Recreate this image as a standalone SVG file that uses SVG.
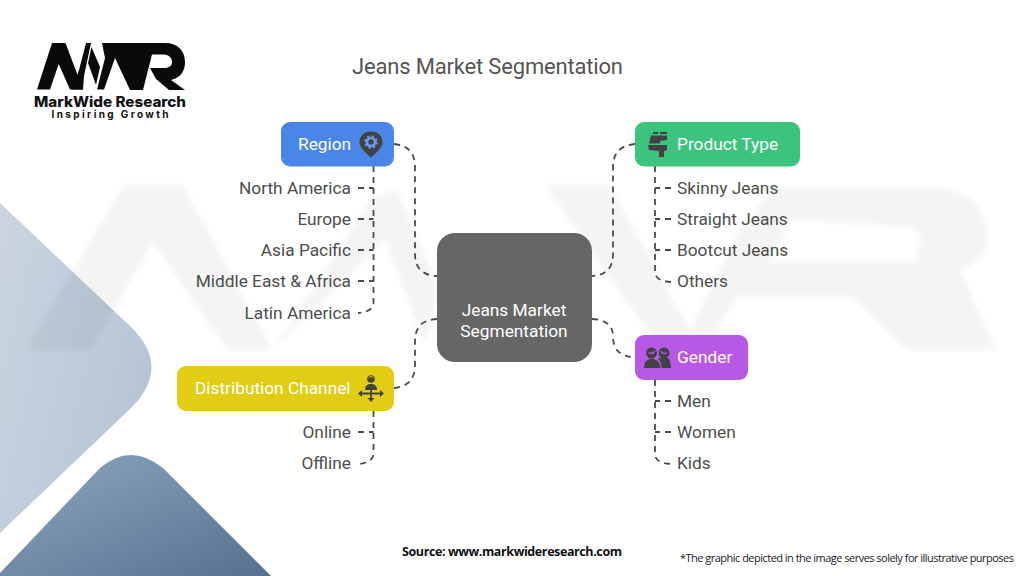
<svg xmlns="http://www.w3.org/2000/svg" width="1024" height="576" viewBox="0 0 1024 576">
<style>
.l{font:17.3px Roboto,"Liberation Sans",sans-serif;fill:#4d4d4d}
.e{text-anchor:end}
.n{font:17.3px Roboto,"Liberation Sans",sans-serif;fill:#fff}
.c{fill:none;stroke:#4a4a4a;stroke-width:1.8;stroke-dasharray:6 5}
.i{fill:#424242}
</style>
<defs>
<linearGradient id="g1" x1="0" y1="0" x2="1" y2="0.5"><stop offset="0" stop-color="#cbd5e1"/><stop offset="1" stop-color="#b6c5d5"/></linearGradient>
<linearGradient id="g2" x1="0" y1="0" x2="1" y2="1"><stop offset="0" stop-color="#8fa6c1"/><stop offset="1" stop-color="#55718f"/></linearGradient>
<filter id="soft" x="-5%" y="-10%" width="110%" height="120%"><feGaussianBlur stdDeviation="2.500"/></filter>
</defs>
<rect width="1024" height="576" fill="#fff"/>
<path d="M0,203 L131,327 Q172,367 131,408 L0,533Z" fill="url(#g1)"/>
<path d="M0,573 L100,468 Q130,442 163,468 L271,576 H0Z" fill="url(#g2)"/>
<path id="watermark" filter="url(#soft)" fill="#000" opacity="0.04" d="M26,350 L123,185 H183 L273,350 L372,197 L397,190 L440,290 L425,345 L385,240 L273,350 H227 L153,243 L90,350Z M545,185 H610 L690,330 L737,235 L773,187 H927 C970,187 987,210 987,237 C987,255 975,265 960,270 L997,350 H907 L853,297 H737 L705,350 H660Z M793,220 L770,262 H913 C918,255 920,248 920,240 C920,232 913,227 903,227Z"/>
<g id="header">
<g id="logo" fill="#0a0a0a">
<path d="M37,89.500 L52,43 H65.500 L83,89.500 H70 L58.700,64 L50,89.500Z"/>
<path d="M72,89.500 L79,70 L86,43 H91 L84,76 L83,89.500Z"/>
<path d="M91.500,47 L100,67 L96,85 L88,63Z"/>
<path d="M102,43 H165 C178,43 185,51 185,62 C185,72 180,78 171,80 L185,90 H169 L156,79 L150,68 H163 C169,68 172,66 172,62 C172,57 168,54.500 163,54.500 H152 L143,90 H130 L115,58 L104,89.500 H97 L105,58Z"/>
</g>
<text x="110" y="107" text-anchor="middle" textLength="152" lengthAdjust="spacingAndGlyphs" style="font:800 14px Inter,'Liberation Sans',sans-serif" fill="#111">MarkWide Research</text>
<text x="110" y="118" text-anchor="middle" textLength="117" style="font:700 10px Inter,'Liberation Sans',sans-serif" fill="#111">Inspiring Growth</text>
<text x="352" y="74" textLength="271" style="font:22px Roboto,'Liberation Sans',sans-serif" fill="#555">Jeans Market Segmentation</text>
</g>
<g id="connectors">
<path class="c" d="M394,144 Q415,146 415,167 V254 Q415,275 437,276"/>
<path class="c" d="M394,388 Q415,386 415,365 V341 Q415,320 437,319"/>
<path class="c" d="M635,144 Q613,146 613,167 V254 Q613,275 592,276"/>
<path class="c" d="M592,319 Q613,320 613,336 Q613,357 635,357"/>
<path class="c" d="M373.500,166 V302 Q373.500,312 358,313"/>
<path class="c" d="M358,188 H373.500 M358,219 H373.500 M358,250 H373.500 M358,281 H373.500"/>
<path class="c" d="M373.500,411 V453 Q373.500,463 358,464"/>
<path class="c" d="M358,432 H373.500"/>
<path class="c" d="M655,166 V272 Q655,281 671,282"/>
<path class="c" d="M671,188 H655 M671,219 H655 M671,250 H655"/>
<path class="c" d="M655,380 V454 Q655,463 671,464"/>
<path class="c" d="M671,401 H655 M671,432 H655"/>
</g>
<g id="center"><rect x="437" y="233" width="155" height="129" rx="18" fill="#666"/>
<text class="n" x="514" y="316" text-anchor="middle">Jeans Market</text><text class="n" x="514" y="337" text-anchor="middle">Segmentation</text></g>
<g id="region"><rect x="281" y="122" width="113" height="44.500" rx="9" fill="#4a86e8"/>
<text class="n" x="298" y="150">Region</text>
<path class="i" d="M371,131.500 C378,131.500 382.500,136 382.500,142 C382.500,148 376,153 371,157.500 C366,153 359.500,148 359.500,142 C359.500,136 364,131.500 371,131.500Z"/>
<circle cx="371" cy="142" r="4" fill="none" stroke="#6c9eea" stroke-width="2.600"/><circle cx="371" cy="142" r="6" fill="none" stroke="#6c9eea" stroke-width="1.500" stroke-dasharray="2.500 2.200"/>
</g>
<g id="region-items">
<text class="l e" x="351" y="194">North America</text><text class="l e" x="351" y="225">Europe</text><text class="l e" x="351" y="256">Asia Pacific</text><text class="l e" x="351" y="287">Middle East &amp; Africa</text><text class="l e" x="351" y="319">Latin America</text></g>
<g id="distribution"><rect x="177" y="366" width="217" height="45" rx="9" fill="#e2cc14"/>
<text class="n" x="195" y="394">Distribution Channel</text>
<circle cx="371" cy="379" r="3.800" class="i"/><path d="M368.500,378 A3,3 0 0 1 373.500,378" fill="none" stroke="#e2cc14" stroke-width="1"/>
<path class="i" d="M365,390 C365,385 368,384 371,384 C374,384 377,385 377,390Z"/>
<path d="M360,393.500 H382 M371,390 V399" fill="none" stroke="#424242" stroke-width="1.800"/>
<path class="i" d="M358,393.500 L362,390 V397Z M384,393.500 L380,390 V397Z M371,402 L367.500,398 H374.500Z"/>
</g>
<g id="distribution-items"><text class="l e" x="351" y="438">Online</text><text class="l e" x="351" y="469">Offline</text></g>
<g id="product"><rect x="635" y="122" width="165" height="44.500" rx="9" fill="#3cc47f"/>
<text class="n" x="677" y="150">Product Type</text>
<path class="i" d="M653,132 H658 V134 H653Z M660,132 H667 V134 H660Z M651,135.500 H667 V140 L660,141 V143.500 H649Z M648,145 H667 V150 L664,151 V157 H659 V151 L649,150Z"/>
</g>
<g id="product-items"><text class="l" x="677" y="194">Skinny Jeans</text><text class="l" x="677" y="225">Straight Jeans</text><text class="l" x="677" y="256">Bootcut Jeans</text><text class="l" x="677" y="287">Others</text></g>
<g id="gender"><rect x="635" y="335" width="113" height="45" rx="9" fill="#b759e4"/>
<text class="n" x="677" y="363">Gender</text>
<circle cx="651.500" cy="353" r="5.500" class="i"/><circle cx="664" cy="353" r="5.500" class="i"/>
<path class="i" d="M644,368 C644,361 648,359 651.500,359 C656,359 660,361 660.500,368Z M661.500,368 C661.500,363 660,360 658,359 C661,357 667,357 669,359 C670,361 671,364 671,368Z"/>
<path d="M648.500,352.500 C651,354 653,354 655,351 M660.500,351 C662,354 665,354 667,352.500" fill="none" stroke="#b759e4" stroke-width="1.400"/>
</g>
<g id="gender-items"><text class="l" x="677" y="407">Men</text><text class="l" x="677" y="438">Women</text><text class="l" x="677" y="469">Kids</text></g>
<g id="footer">
<text x="402" y="556" textLength="220" style="font:700 12.500px 'Open Sans','Liberation Sans',sans-serif" fill="#111">Source: www.markwideresearch.com</text>
<text x="680" y="562" textLength="334" style="font:11px 'Open Sans','Liberation Sans',sans-serif" fill="#222">*The graphic depicted in the image serves solely for illustrative purposes</text>
</g>
</svg>
